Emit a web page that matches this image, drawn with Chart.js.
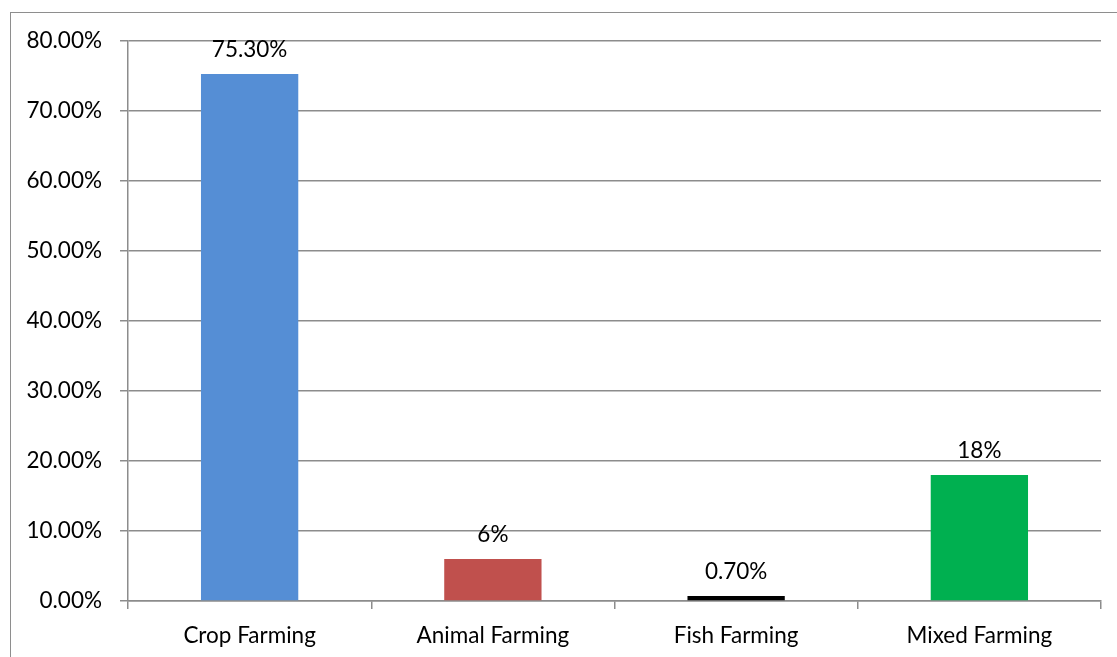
<!DOCTYPE html>
<html>
<head>
<meta charset="utf-8">
<script src="https://cdn.jsdelivr.net/npm/chart.js@4"></script>
<style>
  html, body { margin: 0; padding: 0; background: #fff; overflow: hidden; }
  #frame { position: absolute; left: 10px; top: 12px; width: 1300px; height: 900px; border: 1px solid #8e8e8e; }
  #wrap { position: absolute; left: 0; top: 0; width: 1117px; height: 657px; }
</style>
</head>
<body>
<div id="frame"></div>
<div id="wrap"><canvas id="chart" width="1117" height="657"></canvas></div>
<script>
const categories = ['Crop Farming', 'Animal Farming', 'Fish Farming', 'Mixed Farming'];
const values = [75.3, 6, 0.7, 18];
const valueLabels = ['75.30%', '6%', '0.70%', '18%'];
const barColors = ['#558ed5', '#c0504d', '#000000', '#00b050'];

const font = "Lato, 'Open Sans', sans-serif";

// draws the value text above each bar
const barLabels = {
  id: 'barLabels',
  afterDatasetsDraw(chart) {
    const ctx = chart.ctx;
    const meta = chart.getDatasetMeta(0);
    ctx.save();
    ctx.font = '22.5px ' + font;
    ctx.fillStyle = '#000';
    ctx.textAlign = 'center';
    ctx.textBaseline = 'bottom';
    meta.data.forEach((bar, i) => {
      ctx.fillText(valueLabels[i], bar.x, bar.y - 13);
    });
    ctx.restore();
  }
};

new Chart(document.getElementById('chart'), {
  type: 'bar',
  data: {
    labels: categories,
    datasets: [{
      data: values,
      backgroundColor: barColors,
      categoryPercentage: 1,
      barPercentage: 0.4
    }]
  },
  options: {
    responsive: false,
    animation: false,
    maintainAspectRatio: false,
    layout: { padding: { top: 41, right: 16, left: 0, bottom: 0 } },
    plugins: { legend: { display: false }, tooltip: { enabled: false } },
    scales: {
      y: {
        min: 0,
        max: 80,
        ticks: {
          stepSize: 10,
          color: '#000',
          padding: 18,
          font: { size: 22.5, family: font },
          callback: v => v.toFixed(2) + '%'
        },
        grid: { color: '#8c8c8c', lineWidth: 1.5, tickLength: 8 },
        border: { color: '#8c8c8c', width: 1.5 },
        afterFit: s => { s.width = 128; }
      },
      x: {
        ticks: {
          color: '#000',
          padding: 13,
          maxRotation: 0,
          font: { size: 22.5, family: font }
        },
        grid: { offset: true, drawOnChartArea: false, color: '#8c8c8c', lineWidth: 1.5, tickLength: 8 },
        border: { color: '#8c8c8c', width: 1.5 },
        afterFit: s => { s.height = 56; }
      }
    }
  },
  plugins: [barLabels]
});
</script>
</body>
</html>
